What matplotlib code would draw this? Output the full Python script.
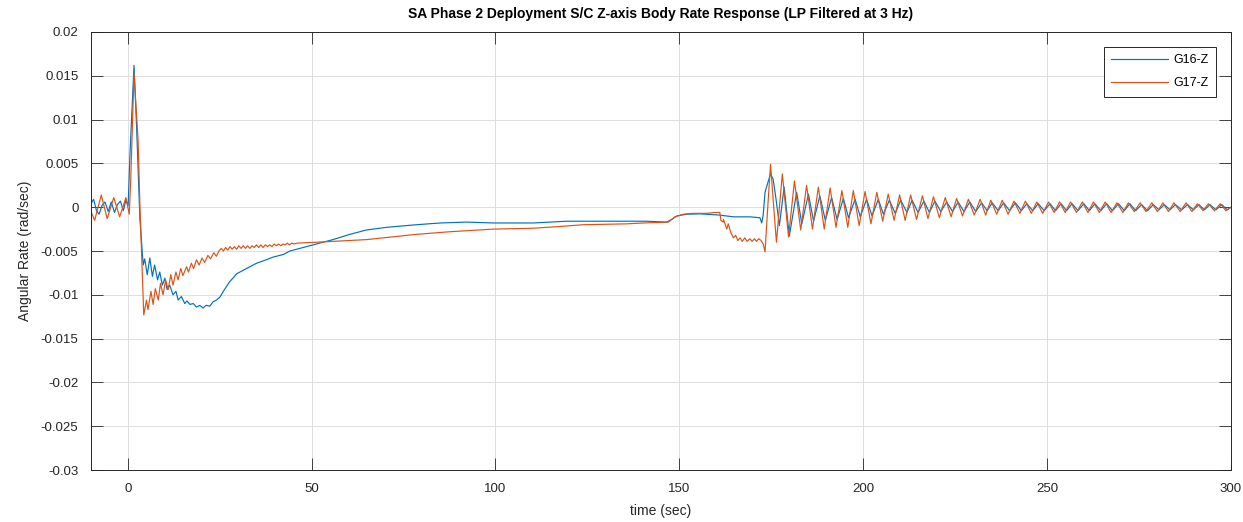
"""SA phase 2 deployment: S/C Z-axis body rate response (LP filtered at 3 Hz)."""

import matplotlib

matplotlib.use("Agg")
import matplotlib.pyplot as plt  # noqa: E402

plt.rcParams["font.family"] = ["Liberation Sans", "DejaVu Sans"]

# --- G16-Z (blue), time [s] / rate [rad/s]
g16_t = [
    -10, -9.3, -8.5, -7.8, -7.0, -6.2, -5.3, -4.5, -3.6, -2.8, -2.0, -1.2, -0.5, 0.1,
    0.6, 1.7, 2.4, 3.3, 4.2,
    4.6, 5.3, 6.0, 6.7, 7.3, 8.1, 8.7, 9.4, 10.1, 10.7, 11.4, 12.3, 13.1, 13.7,
    14.6, 15.5, 16.1, 16.9, 17.8, 18.7, 19.6, 20.5, 21.3, 22.3, 23.2, 24.1, 25.0,
    26.3, 27.7, 28.6, 29.6, 31.4, 33.2, 35.0, 37.7, 39.5, 42.3, 44.1, 46.8, 50.4,
    55.8, 60.4, 64.9, 70.3, 78.5, 85.0, 92.1, 99.4, 110.3, 119.3, 128.4, 141.1,
    146.5, 147.9, 149.3, 152.0, 155.6, 161.0, 164.7, 169.2, 171.9, 172.4, 172.8,
    173.3, 174.2, 174.8, 175.5, 176.3, 177.2, 178.5, 179.9,
    181.9, 183.3, 185.1, 186.5, 188.2, 189.7, 191.4, 192.9, 194.6, 196.0, 197.8,
    199.2, 200.9, 202.4, 204.1, 205.5, 207.1, 208.7, 210.2, 211.9, 213.3, 214.9,
    216.5, 218.0, 219.5, 221.1, 222.7, 224.3, 225.8, 227.4, 229.0, 230.6, 232.2,
    233.7, 235.1, 236.7, 238.2, 239.8, 241.4, 243.0, 244.5, 246.1, 247.6, 249.2,
    250.8, 252.3, 253.8, 255.3, 256.8, 258.4, 260.0, 261.5, 263.0, 264.6, 266.2,
    267.8, 269.4, 271.0, 272.5, 274.1, 275.7, 277.3, 278.9, 280.4, 281.9, 283.4,
    284.9, 286.6, 288.2, 289.8, 291.3, 292.8, 294.3, 295.9, 297.5, 299.0, 300.0,
]
g16_y = [
    0.0004, 0.0009, -0.0004, -0.0008, 0.0002, 0.0006, -0.0005, 0.0006, -0.0006, 0.0003, 0.0007, -0.0004, 0.0008, 0.0002,
    0.0060, 0.0162, 0.0092, -0.0013, -0.0066,
    -0.0059, -0.0077, -0.0058, -0.0079, -0.0066, -0.0083, -0.0074, -0.0089, -0.0081, -0.0094, -0.0089, -0.0100, -0.0096, -0.0106,
    -0.0102, -0.0110, -0.0107, -0.0111, -0.0110, -0.0114, -0.0112, -0.0115, -0.0112, -0.0113, -0.0108, -0.0106, -0.0103,
    -0.0094, -0.0085, -0.0081, -0.0076, -0.0072, -0.0068, -0.0064, -0.0060, -0.0057, -0.0054, -0.0050, -0.0047, -0.0043,
    -0.0037, -0.0031, -0.0026, -0.0023, -0.0020, -0.0018, -0.0017, -0.0018, -0.0018, -0.0016, -0.0016, -0.0016,
    -0.0017, -0.0014, -0.0010, -0.0008, -0.00076, -0.0009, -0.0011, -0.0011, -0.0012, -0.0018, -0.0009,
    0.0017, 0.0030, 0.0038, 0.0032, 0.0009, -0.0021, 0.0023, -0.0033,
    0.0017, -0.0019, 0.0015, -0.0016, 0.0013, -0.0015, 0.0011, -0.0014, 0.0010, -0.0012, 0.0009,
    -0.0011, 0.0009, -0.0010, 0.0009, -0.0008, 0.0008, -0.0007, 0.0008, -0.0006, 0.0008, -0.0006,
    0.0007, -0.0006, 0.0007, -0.0005, 0.0006, -0.0005, 0.0006, -0.0005, 0.0006, -0.0005, 0.0005,
    -0.0004, 0.0005, -0.0004, 0.0005, -0.0004, 0.0005, -0.0004, 0.0004, -0.0004, 0.0004, -0.0004,
    0.0004, -0.0004, 0.0004, -0.0004, 0.0004, -0.0004, 0.0004, -0.0004, 0.0004, -0.0004, 0.0004,
    -0.0004, 0.0004, -0.0004, 0.0004, -0.0004, 0.0003, -0.0004, 0.0003, -0.0003, 0.0003, -0.0003,
    0.0003, -0.0003, 0.0003, -0.0003, 0.0003, -0.0003, 0.0003, -0.0003, 0.0003, -0.0003, 0.0000,
]

# --- G17-Z (orange)
g17_t = [
    -10, -9.0, -7.2, -5.6, -3.8, -2.2, -0.5, 0.4, 0.8, 1.7, 2.8, 3.3, 4.35,
    5.1, 5.5, 6.3, 6.9, 7.5, 8.3, 8.9, 9.6, 10.3, 11.0, 11.7, 12.3, 13.1, 13.7,
    14.4, 15.0, 16.0, 16.5, 17.3, 17.9, 18.7, 19.4, 20.2, 20.9, 21.8, 22.5, 23.4,
    24.1, 24.8,
    25.4, 26.0, 26.6, 27.2, 27.8, 28.4, 29.0, 29.6, 30.2, 30.8, 31.4, 32.0, 32.6,
    33.2, 33.8, 34.4, 35.0, 35.6, 36.2, 36.8, 37.4, 38.0, 38.6, 39.2, 39.8, 40.4,
    41.0, 41.6, 42.2, 42.8, 43.4, 44.0, 44.6, 45.2, 46.0,
    51.3, 55.8, 64.9, 69.5, 78.5, 87.6, 99.4, 110.3, 117.5, 123.9, 135.7, 140.2,
    147.0, 148.8, 151.1, 153.8, 157.4, 159.7, 161.0, 161.3, 161.9, 162.0, 162.9,
    163.3, 163.9, 164.7, 165.3, 165.9, 166.5, 167.1, 167.8, 168.4, 169.2, 169.8,
    170.4, 171.0, 171.6, 172.2, 172.8, 173.3, 173.9, 174.8, 175.5, 176.4, 178.0,
    179.7, 181.3, 183.0, 184.6, 186.2, 187.8, 189.4, 191.0, 192.6, 194.2, 195.8,
    197.3, 198.9, 200.5, 202.1, 203.7, 205.3, 206.8, 208.4, 209.9, 211.4, 212.9,
    214.5, 216.1, 217.6, 219.1, 220.7, 222.3, 223.9, 225.4, 227.0, 228.6, 230.2,
    231.8, 233.3, 234.7, 236.3, 237.8, 239.4, 241.0, 242.6, 244.1, 245.7, 247.2,
    248.8, 250.4, 251.9, 253.4, 254.9, 256.4, 258.0, 259.6, 261.1, 262.6, 264.2,
    265.8, 267.4, 269.0, 270.6, 272.1, 273.7, 275.3, 276.9, 278.5, 280.0, 281.5,
    283.0, 284.5, 286.2, 287.8, 289.4, 290.9, 292.4, 293.9, 295.5, 297.1, 298.6,
    300.0,
]
g17_y = [
    -0.0005, -0.0015, 0.0014, -0.0013, 0.0011, -0.0011, 0.0011, -0.0008, 0.0030, 0.0153, 0.0077, 0.0002, -0.0123,
    -0.0106, -0.0117, -0.0096, -0.0111, -0.0093, -0.0106, -0.0087, -0.0100, -0.0083, -0.0094, -0.0077, -0.0089, -0.0074, -0.0083,
    -0.0070, -0.0078, -0.0068, -0.0074, -0.0064, -0.0070, -0.0060, -0.0066, -0.0058, -0.0063, -0.0055, -0.0059, -0.0052,
    -0.0056, -0.0050,
    -0.0047, -0.0050, -0.0046, -0.0049, -0.0045, -0.0048, -0.0045, -0.0048, -0.0044, -0.0047, -0.0044, -0.0047, -0.0044,
    -0.0047, -0.0044, -0.0046, -0.0043, -0.0046, -0.0043, -0.0046, -0.0043, -0.0045, -0.0043, -0.0045, -0.0042, -0.0044,
    -0.0042, -0.0044, -0.0042, -0.0043, -0.0041, -0.0043, -0.0041, -0.0042, -0.0041,
    -0.0040, -0.0039, -0.0037, -0.0035, -0.0031, -0.0028, -0.0025, -0.0024, -0.0022, -0.0020, -0.0019, -0.0018,
    -0.0017, -0.0011, -0.0008, -0.0007, -0.0007, -0.0006, -0.0006, -0.0015, -0.0017, -0.0014, -0.0025,
    -0.0019, -0.0028, -0.0035, -0.0032, -0.0038, -0.0035, -0.0039, -0.0035, -0.0039, -0.0036, -0.0039,
    -0.0036, -0.0039, -0.0036, -0.0038, -0.0042, -0.0051, -0.0009, 0.0049, 0.0009, -0.0040, 0.0038,
    -0.0034, 0.0030, -0.0026, 0.0025, -0.0025, 0.0023, -0.0025, 0.0022, -0.0023, 0.0019, -0.0023,
    0.0019, -0.0021, 0.0018, -0.0019, 0.0017, -0.0016, 0.0015, -0.0015, 0.0014, -0.0015, 0.0014,
    -0.0014, 0.0013, -0.0013, 0.0012, -0.0012, 0.0011, -0.0011, 0.0010, -0.0010, 0.0009, -0.0009,
    0.0009, -0.0009, 0.0008, -0.0008, 0.0008, -0.0008, 0.0007, -0.0007, 0.0007, -0.0007, 0.0006,
    -0.0007, 0.0006, -0.0006, 0.0006, -0.0006, 0.0006, -0.0006, 0.0006, -0.0006, 0.0006, -0.0006,
    0.0006, -0.0006, 0.0005, -0.0006, 0.0005, -0.0005, 0.0005, -0.0005, 0.0005, -0.0005, 0.0005,
    -0.0005, 0.0005, -0.0005, 0.0005, -0.0005, 0.0004, -0.0004, 0.0004, -0.0004, 0.0004, -0.0004,
    0.0000,
]

x_ticks = [0, 50, 100, 150, 200, 250, 300]
y_ticks = [-0.03, -0.025, -0.02, -0.015, -0.01, -0.005, 0, 0.005, 0.01, 0.015, 0.02]
y_tick_labels = ["-0.03", "-0.025", "-0.02", "-0.015", "-0.01", "-0.005", "0",
                 "0.005", "0.01", "0.015", "0.02"]

AX_COLOR = "#262626"

fig = plt.figure(figsize=(12.43, 5.22), dpi=100)
ax = fig.add_axes([0.0732, 0.0996, 0.9171, 0.8391])

line_kw = dict(linewidth=0.85, solid_joinstyle="round")
ax.plot(g16_t, g16_y, color="#0072BD", label="G16-Z", **line_kw)
ax.plot(g17_t, g17_y, color="#D95319", label="G17-Z", **line_kw)

ax.set_xlim(-10, 300)
ax.set_ylim(-0.03, 0.02)
ax.set_xticks(x_ticks)
ax.set_xticklabels([str(v) for v in x_ticks])
ax.set_yticks(y_ticks)
ax.set_yticklabels(y_tick_labels)

ax.grid(True, color="#dedede", linewidth=0.7)
ax.set_axisbelow(True)
ax.tick_params(direction="in", length=8.5, width=0.6, top=True, right=True,
               colors=AX_COLOR, labelsize=9.5, pad=9)
for spine in ax.spines.values():
    spine.set_color(AX_COLOR)
    spine.set_linewidth(0.7)

ax.set_xlabel("time (sec)", fontsize=10, color=AX_COLOR, labelpad=7)
ax.set_ylabel("Angular Rate (rad/sec)", fontsize=10, color=AX_COLOR, labelpad=6)
ax.set_title("SA Phase 2 Deployment S/C Z-axis Body Rate Response (LP Filtered at 3 Hz)",
             fontsize=10, fontweight="bold", color="#000000", pad=10)

leg = ax.legend(loc="upper right", bbox_to_anchor=(0.987, 0.966), borderaxespad=0,
                fontsize=9, handlelength=4.5, fancybox=False, framealpha=1,
                edgecolor=AX_COLOR, borderpad=0.6, labelspacing=0.85, handletextpad=0.45)
leg.get_frame().set_linewidth(0.7)
for txt in leg.get_texts():
    txt.set_color("#000000")

fig.savefig("out.png", dpi=100, facecolor="white")
